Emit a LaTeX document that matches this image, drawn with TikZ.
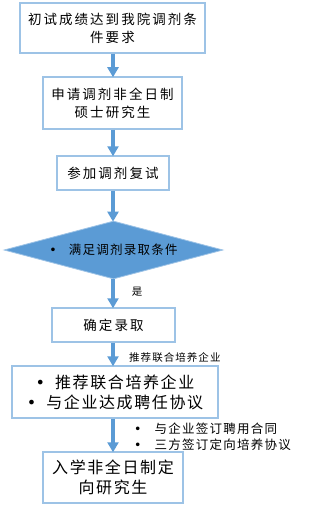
\documentclass[tikz,border=0pt]{standalone}
\usepackage{fontspec}
\setmainfont{Noto Sans CJK SC}
\newfontfamily\bulletfont{DejaVu Sans}
\usetikzlibrary{arrows.meta,shapes.geometric}
\definecolor{boxline}{HTML}{9DC3E6}
\definecolor{arrowblue}{HTML}{5B9BD5}
\definecolor{diafill}{HTML}{5B9BD5}
\newcommand{\fntA}{\fontsize{13.5pt}{18pt}\selectfont\addfontfeature{LetterSpace=15}}
\newcommand{\fntB}{\fontsize{16pt}{20pt}\selectfont\addfontfeature{LetterSpace=10}}
\newcommand{\fntC}{\fontsize{12.5pt}{16.5pt}\selectfont\addfontfeature{LetterSpace=10}}
\newcommand{\fntD}{\fontsize{10.5pt}{13pt}\selectfont\addfontfeature{LetterSpace=10}}
\newcommand{\bul}{{\bulletfont •}}
\begin{document}
\begin{tikzpicture}[x=1pt,y=-1pt,
  flowbox/.style={draw=boxline,line width=1.5pt,fill=white,inner sep=0pt,align=center,text=black},
  arr/.style={draw=arrowblue,line width=4pt,-{Triangle[width=11pt,length=10pt]},shorten >=-1pt},
  lbl/.style={inner sep=0pt,text=black}]
\useasboundingbox (0,0) rectangle (319,511);
\node[flowbox,minimum width=185pt,minimum height=50pt,font=\fntA] (b1) at (112.5,28) {初试成绩达到我院调剂条\\件要求};
\node[flowbox,minimum width=139pt,minimum height=52pt,font=\fntA] (b2) at (112.5,103) {申请调剂非全日制\\硕士研究生};
\node[flowbox,minimum width=112pt,minimum height=34pt,font=\fntA] (b3) at (113,173) {参加调剂复试};
\node[diamond,draw=boxline,line width=0.8pt,fill=diafill,inner sep=0pt,minimum width=219pt,minimum height=58pt,aspect=3.78,font=\fntC,text=black] (d) at (113.5,250) {\bul\hspace{12pt}满足调剂录取条件};
\node[flowbox,minimum width=123pt,minimum height=34pt,font=\fntA] (b4) at (113.5,325) {确定录取};
\node[flowbox,minimum width=206pt,minimum height=52pt,font=\fntB] (b5) at (115,392) {\bul\hspace{10pt}推荐联合培养企业\\\bul\hspace{10pt}与企业达成聘任协议};
\node[flowbox,minimum width=140pt,minimum height=51pt,font=\fntB] (b6) at (113,477.5) {入学非全日制定\\向研究生};
\draw[arr] (b1.south -| b3.north) -- (b2.north -| b3.north);
\draw[arr] (b2.south -| b3.north) -- (b3.north);
\draw[arr] (b3.south) -- (d.north -| b3.south);
\draw[arr] (d.south -| b3.south) -- (b4.north -| b3.south);
\draw[arr] (b4.south -| b3.south) -- (b5.north -| b3.south);
\draw[arr] (b5.south -| b3.south) -- (b6.north -| b3.south);
\node[lbl,font=\fntD] (yes) at (137,292) {是};
\node[lbl,font=\fntD,anchor=west] (l1) at (129,358) {推荐联合培养企业};
\node[lbl,font=\fntC,anchor=west,align=left] (l2) at (134,436.5) {\bul\hspace{13pt}与企业签订聘用合同\\\bul\hspace{13pt}三方签订定向培养协议};
\end{tikzpicture}
\end{document}
